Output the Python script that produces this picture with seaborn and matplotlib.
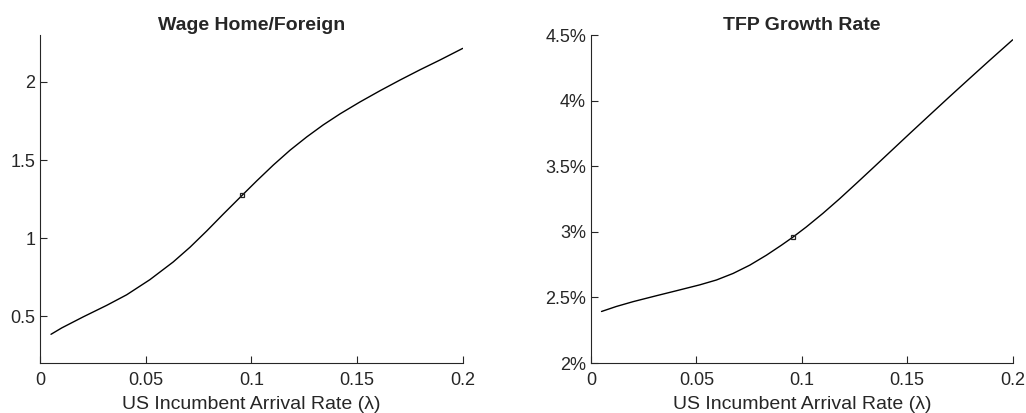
import numpy as np
import pandas as pd
import matplotlib
matplotlib.use("Agg")
import matplotlib.pyplot as plt
import seaborn as sns
from matplotlib.ticker import FuncFormatter

# values
wage_rate = [0.0052, 0.0103, 0.0205, 0.0315, 0.041, 0.052, 0.063, 0.071,
             0.0789, 0.0868, 0.0957, 0.1025, 0.1104, 0.1183, 0.1262, 0.134,
             0.142, 0.1514, 0.1609, 0.1703, 0.1798, 0.1893, 0.2]
wage_ratio = [0.384, 0.425, 0.496, 0.569, 0.637, 0.734, 0.847, 0.942,
              1.046, 1.155, 1.275, 1.366, 1.468, 1.563, 1.648, 1.725,
              1.796, 1.872, 1.944, 2.012, 2.078, 2.141, 2.215]

tfp_rate = [0.005, 0.012, 0.020, 0.031, 0.0405, 0.0516, 0.0595, 0.0674,
            0.0753, 0.0832, 0.0903, 0.0958, 0.1021, 0.110, 0.1179, 0.1259,
            0.1338, 0.1417, 0.1512, 0.1606, 0.1701, 0.1796, 0.1891, 0.2]
tfp_growth = [2.393, 2.431, 2.468, 2.513, 2.551, 2.596, 2.633, 2.683,
              2.746, 2.822, 2.898, 2.960, 3.037, 3.141, 3.252, 3.370,
              3.488, 3.607, 3.750, 3.890, 4.031, 4.170, 4.308, 4.464]

baseline_rate = 0.0957
baseline_wage = 1.274
baseline_tfp = 2.96

x_ticks = [0, 0.05, 0.1, 0.15, 0.2]
x_tick_labels = ["0", "0.05", "0.1", "0.15", "0.2"]
wage_ticks = [0.5, 1, 1.5, 2]
wage_tick_labels = ["0.5", "1", "1.5", "2"]
tfp_ticks = [2, 2.5, 3, 3.5, 4, 4.5]

sns.set_style("ticks")
plt.rcParams["font.family"] = ["Liberation Sans", "DejaVu Sans"]
plt.rcParams["xtick.direction"] = "in"
plt.rcParams["ytick.direction"] = "in"
plt.rcParams["xtick.major.size"] = 5
plt.rcParams["ytick.major.size"] = 5

wage_df = pd.DataFrame({"rate": wage_rate, "value": wage_ratio})
tfp_df = pd.DataFrame({"rate": tfp_rate, "value": tfp_growth})

fig = plt.figure(figsize=(10.26, 4.13), dpi=100)
ax1 = fig.add_axes([0.039, 0.121, 0.412, 0.794])
ax2 = fig.add_axes([0.576, 0.121, 0.411, 0.794])

panels = [
    (ax1, wage_df, baseline_wage, "Wage Home/Foreign", (0.2, 2.3), wage_ticks),
    (ax2, tfp_df, baseline_tfp, "TFP Growth Rate", (2.0, 4.5), tfp_ticks),
]

for ax, df, base_y, title, ylim, yticks in panels:
    sns.lineplot(data=df, x="rate", y="value", ax=ax, color="black", linewidth=1.0)
    ax.plot([baseline_rate], [base_y], marker="s", markersize=3.5,
            markerfacecolor="none", markeredgecolor="#222222", markeredgewidth=0.9)
    ax.set_xlim(0, 0.2)
    ax.set_ylim(*ylim)
    ax.set_xticks(x_ticks)
    ax.set_xticklabels(x_tick_labels)
    ax.set_yticks(yticks)
    ax.set_title(title, fontsize=14, fontweight="bold", pad=3.5)
    ax.set_xlabel("US Incumbent Arrival Rate (λ)", fontsize=14, color="#262626", labelpad=5)
    ax.set_ylabel("")
    ax.tick_params(axis="both", which="major", direction="in", labelsize=13,
                   colors="#262626", length=5, width=0.8,
                   bottom=True, left=True, top=False, right=False)
    ax.tick_params(axis="x", pad=6.5)
    for side in ["left", "bottom"]:
        ax.spines[side].set_color("#262626")
        ax.spines[side].set_linewidth(0.8)
    sns.despine(ax=ax)

ax1.set_yticklabels(wage_tick_labels)
ax2.yaxis.set_major_formatter(FuncFormatter(lambda v, _: f"{v:g}%"))

fig.savefig("out.png", dpi=100)
